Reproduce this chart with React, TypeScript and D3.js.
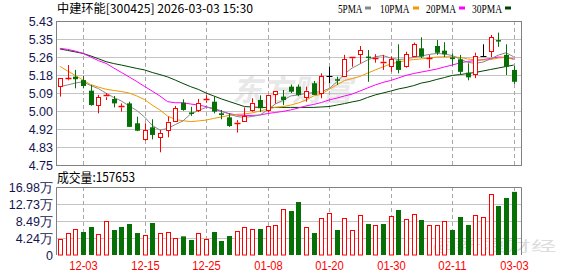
import React from 'react';
import * as d3 from 'd3';

const dates = [
  '11-28','12-01','12-02','12-03','12-04','12-05','12-08','12-09','12-10','12-11','12-12',
  '12-15','12-16','12-17','12-18','12-19','12-22','12-23','12-24','12-25','12-26','12-29','12-30','12-31',
  '01-05','01-06','01-07','01-08','01-09','01-12','01-13','01-14','01-15','01-16','01-19','01-20',
  '01-21','01-22','01-23','01-26','01-27','01-28','01-29','01-30','02-02','02-03','02-04','02-05','02-06',
  '02-09','02-10','02-11','02-12','02-13','02-24','02-25','02-26','02-27','03-02','03-03'
];

const opens = [
  5.12,5.155,5.167,5.151,5.101,5.033,5.07,5.062,5.022,5.041,
  4.947,4.871,4.928,4.881,4.918,4.955,5.044,4.998,5.01,5.053,
  5.049,4.994,4.975,4.945,4.959,5.01,5.057,5.01,5.085,5.073,
  5.12,5.12,5.073,5.136,5.091,5.17,5.155,5.167,5.254,5.273,
  5.262,5.252,5.23,5.214,5.243,5.217,5.262,5.301,5.25,5.312,
  5.29,5.258,5.249,5.186,5.183,5.266,5.285,5.34,5.27,5.199
];
const closes = [
  5.16,5.16,5.155,5.123,5.033,5.07,5.08,5.041,5.028,4.93,
  4.912,4.915,4.892,4.9,4.955,5.018,5.01,4.994,5.044,5.062,
  5.002,4.986,4.934,4.95,4.981,5.044,5.018,5.081,5.099,5.057,
  5.096,5.081,5.101,5.081,5.17,5.17,5.148,5.249,5.258,5.293,
  5.258,5.257,5.238,5.249,5.199,5.274,5.32,5.262,5.254,5.28,
  5.273,5.25,5.19,5.164,5.266,5.266,5.353,5.336,5.214,5.143
];
const highs = [
  5.16,5.222,5.199,5.17,5.128,5.081,5.09,5.076,5.041,5.049,
  4.978,4.947,4.966,4.915,4.978,5.029,5.06,5.025,5.062,5.08,
  5.072,5.01,4.994,4.962,5.022,5.065,5.079,5.081,5.099,5.104,
  5.13,5.13,5.12,5.147,5.183,5.214,5.167,5.27,5.258,5.312,
  5.293,5.273,5.27,5.262,5.32,5.285,5.328,5.353,5.27,5.34,
  5.33,5.277,5.27,5.23,5.28,5.32,5.364,5.375,5.32,5.218
];
const lows = [
  5.073,5.15,5.112,5.112,5.03,4.994,5.057,5.022,5.002,4.93,
  4.91,4.865,4.871,4.81,4.881,4.955,5.006,4.982,5.0,5.044,
  4.994,4.966,4.93,4.903,4.955,5.002,5.0,5.0,5.04,5.033,
  5.09,5.075,5.049,5.081,5.065,5.136,5.128,5.167,5.214,5.23,
  5.143,5.233,5.199,5.19,5.183,5.21,5.26,5.255,5.207,5.27,
  5.26,5.22,5.175,5.15,5.16,5.26,5.26,5.308,5.175,5.133
];
const volumes = [
  39950,54900,64200,57400,69900,52400,84900,62400,70000,77400,
  54900,49100,79900,54900,57400,41600,46600,37500,54900,40000,
  57400,35000,47400,59900,69200,64900,64900,72400,74900,114100,
  109900,132300,69900,54900,91600,104900,62400,91600,62400,99900,
  77400,74900,77400,97400,112400,89900,102400,87400,74900,74900,
  84900,62400,94900,74900,99900,94900,152300,122400,142300,157653
];
// 1 = up (red hollow), 0 = down (green filled), as drawn in the volume panel
const volUp = [
  1,1,1,0,0,1,1,0,0,0,
  0,1,0,1,1,1,0,0,1,1,
  0,0,0,1,1,1,0,1,1,1,
  0,0,1,0,1,1,0,1,1,1,
  0,1,0,1,0,1,1,0,1,1,
  1,0,0,0,1,1,1,0,0,0
];
const ma5 = [
  5.12,5.128,5.137,5.143,5.125,5.111,5.089,5.069,5.052,5.029,
  5.007,4.977,4.937,4.915,4.922,4.941,4.958,4.991,5.007,5.022,
  5.019,5.005,4.991,4.979,4.975,4.979,4.986,5.01,5.038,5.055,
  5.076,5.081,5.088,5.092,5.097,5.111,5.142,5.18,5.208,5.227,
  5.246,5.261,5.267,5.255,5.248,5.251,5.258,5.265,5.272,5.277,
  5.274,5.267,5.251,5.235,5.23,5.236,5.251,5.269,5.28,5.261
];
const ma10 = [
  5.216,5.194,5.173,5.151,5.13,5.118,5.108,5.102,5.097,5.09,
  5.076,5.059,5.033,5.01,4.981,4.965,4.959,4.955,4.958,4.962,
  4.97,4.977,4.984,4.989,4.991,4.996,5.005,5.014,5.022,5.026,
  5.033,5.043,5.057,5.076,5.085,5.107,5.128,5.149,5.158,5.168,
  5.184,5.199,5.213,5.227,5.236,5.243,5.248,5.251,5.255,5.26,
  5.261,5.261,5.258,5.251,5.246,5.246,5.248,5.255,5.258,5.248
];
const ma20 = [
  5.301,5.296,5.288,5.277,5.26,5.243,5.23,5.208,5.187,5.166,
  5.144,5.121,5.099,5.076,5.049,5.044,5.044,5.038,5.033,5.026,
  5.014,5.003,4.993,4.986,4.984,4.984,4.986,4.993,4.998,5.003,
  5.01,5.019,5.029,5.036,5.045,5.057,5.066,5.076,5.085,5.099,
  5.114,5.128,5.14,5.149,5.161,5.173,5.182,5.189,5.196,5.203,
  5.213,5.222,5.232,5.239,5.243,5.248,5.253,5.26,5.258,5.251
];
const ma30 = [
  5.298,5.291,5.284,5.277,5.265,5.252,5.238,5.229,5.222,5.214,
  5.206,5.199,5.187,5.177,5.166,5.151,5.135,5.12,5.107,5.09,
  5.076,5.062,5.05,5.038,5.026,5.024,5.022,5.022,5.022,5.022,
  5.022,5.022,5.022,5.022,5.024,5.026,5.033,5.04,5.048,5.055,
  5.069,5.081,5.09,5.099,5.109,5.116,5.125,5.137,5.144,5.154,
  5.163,5.173,5.177,5.182,5.187,5.194,5.201,5.208,5.215,5.222
];

const yTickLabels = ['4.75','4.83','4.92','5.00','5.09','5.18','5.26','5.35','5.43'];
const volTickLabels = ['0','4.24万','8.49万','12.73万','16.98万'];
const xTickLabels = ['12-03','12-15','12-25','01-08','01-20','01-30','02-11','03-03'];
const legendNames = ['5PMA','10PMA','20PMA','30PMA'];
const title = '中建环能[300425] 2026-03-03 15:30';
const volTitle = '成交量:157653';
const watermarkMain = '东方财富';
const watermarkCorner = '@新浪财经';

const UP = '#ff0000';
const DOWN = '#067006';
const maColors = ['#888888', '#f39800', '#ff00ff', '#004400'];

export default function App() {
  const W = 578, H = 276;
  const L = 56, R = 522;
  const mT = 21, mB = 165;
  const vT = 187, vB = 255;
  const yMin = 4.75, yMax = 5.43;
  const vMax = 169800;

  const x = d3.scalePoint<string>().domain(dates).range([59.9, 513.7]);
  const y = d3.scaleLinear().domain([yMin, yMax]).range([mB, mT]);
  const yv = d3.scaleLinear().domain([0, vMax]).range([vB, vT]);

  const px = (i: number) => Math.round(x(dates[i]) as number);
  const line = d3.line<number>()
    .x((_, i) => x(dates[i]) as number)
    .y(d => y(d));

  const yTicks = yTickLabels.map((t, k) => ({ t, v: yMin + (k * (yMax - yMin)) / (yTickLabels.length - 1) }));
  const vTicks = volTickLabels.map((t, k) => ({ t, v: (k * vMax) / (volTickLabels.length - 1) }));

  const font = "'Liberation Sans', Arial, sans-serif";
  const cjk = "'Noto Sans CJK SC', sans-serif";

  return (
    <svg width={W} height={H} style={{ position: 'absolute', left: 0, top: 0, background: '#fff' }}>
      <rect x={0} y={0} width={W} height={H} fill="#fff" />
      {/* watermarks */}
      <text x={232} y={101} fontFamily={cjk} fontSize={30} fontWeight={700} fontStyle="italic" fill="#e8e8e8" textLength={120} lengthAdjust="spacingAndGlyphs">{watermarkMain}</text>
      <text x={432} y={251} fontFamily={cjk} fontSize={14} fill="#dcdcdc" textLength={124} lengthAdjust="spacingAndGlyphs">{watermarkCorner}</text>

      {/* title */}
      <text x={57} y={13} fontFamily={cjk} fontSize={12} fill="#000" textLength={196} lengthAdjust="spacingAndGlyphs">{title}</text>
      {/* legend */}
      {legendNames.map((n, k) => {
        const xs = [338, 380, 426, 472][k];
        const sq = [365, 413, 459, 505][k];
        return (
          <g key={n}>
            <text x={xs} y={12.5} fontFamily="'Liberation Serif', serif" fontSize={11.5} fill="#000" textLength={[24.5, 29.5, 30, 30][k]} lengthAdjust="spacingAndGlyphs">{n}</text>
            <rect x={sq} y={6.5} width={6} height={3} fill={maColors[k]} />
          </g>
        );
      })}

      {/* main grid */}
      {yTicks.map(({ t, v }, k) => (
        <g key={'yt' + k}>
          {k > 0 && k < yTicks.length - 1 && (
            <line x1={L} x2={R} y1={Math.round(y(v)) + 0.5} y2={Math.round(y(v)) + 0.5} stroke="#c4c4c4" />
          )}
          <text x={53} y={y(v) + 4.5} textAnchor="end" fontFamily={font} fontSize={12.5} fill="#141450">{t}</text>
        </g>
      ))}
      {/* volume grid */}
      {vTicks.map(({ t, v }, k) => (
        <g key={'vt' + k}>
          {k > 0 && k < vTicks.length - 1 && (
            <line x1={L} x2={R} y1={Math.round(yv(v)) + 0.5} y2={Math.round(yv(v)) + 0.5} stroke="#c4c4c4" />
          )}
          <text x={53} y={yv(v) + 4.5} textAnchor="end" fontFamily={font} fontSize={12.5} fill="#141450">{t}</text>
        </g>
      ))}
      {/* vertical dashed lines + x labels */}
      {xTickLabels.map(d => {
        const xi = Math.round(x(d) as number) + 0.5;
        return (
          <g key={'xt' + d}>
            <line x1={xi} x2={xi} y1={mT} y2={mB} stroke="#a8a8a8" strokeDasharray="4,3" />
            <line x1={xi} x2={xi} y1={vT} y2={vB} stroke="#a8a8a8" strokeDasharray="4,3" />
            <text x={xi} y={270} textAnchor="middle" fontFamily={font} fontSize={12} fill="#ff0000" textLength={28.5} lengthAdjust="spacingAndGlyphs">{d}</text>
          </g>
        );
      })}

      {/* MA lines */}
      {[ma30, ma20, ma10, ma5].map((s, k) => (
        <path key={'ma' + k} d={line(s) || ''} fill="none" stroke={maColors[3 - k]} strokeWidth={1} />
      ))}

      {/* candles */}
      {dates.map((d, i) => {
        const c = px(i) + 0.5;
        const o = opens[i], cl = closes[i], h = highs[i], l = lows[i];
        const top = y(Math.max(o, cl)), bot = y(Math.min(o, cl));
        if (cl === o) {
          return (
            <g key={'c' + i}>
              <line x1={c} x2={c} y1={y(h)} y2={y(l)} stroke="#000" />
              <line x1={c - 3} x2={c + 3} y1={Math.round(top) + 0.5} y2={Math.round(top) + 0.5} stroke="#000" />
            </g>
          );
        }
        if (cl > o) {
          const bh = Math.max(1, bot - top);
          return (
            <g key={'c' + i}>
              <line x1={c} x2={c} y1={y(h)} y2={top} stroke={UP} />
              <line x1={c} x2={c} y1={bot} y2={y(l)} stroke={UP} />
              {bh < 2.5 ? (
                <line x1={c - 3} x2={c + 3} y1={Math.round(top) + 0.5} y2={Math.round(top) + 0.5} stroke={UP} strokeWidth={1.5} />
              ) : (
                <rect x={c - 2} y={Math.round(top) + 0.5} width={4} height={Math.round(bh)} fill="#fff" stroke={UP} />
              )}
            </g>
          );
        }
        const bh = Math.max(1.5, bot - top);
        return (
          <g key={'c' + i}>
            <line x1={c} x2={c} y1={y(h)} y2={y(l)} stroke={DOWN} />
            <rect x={c - 2.5} y={top} width={5} height={bh} fill={DOWN} />
          </g>
        );
      })}

      {/* volume bars */}
      {volumes.map((v, i) => {
        const c = px(i) + 0.5;
        const t = yv(v);
        return volUp[i] ? (
          <rect key={'v' + i} x={c - 2} y={Math.round(t) + 0.5} width={4} height={vB - Math.round(t) - 0.5} fill="#fff" stroke={UP} />
        ) : (
          <rect key={'v' + i} x={c - 2.5} y={t} width={5} height={vB - t} fill={DOWN} />
        );
      })}

      {/* frames */}
      <rect x={L + 0.5} y={mT + 0.5} width={R - L - 1} height={mB - mT} fill="none" stroke="#808080" />
      <path d={`M${L + 0.5},${vB}V${vT + 0.5}H${R - 0.5}V${vB}`} fill="none" stroke="#808080" />

      <text x={57} y={182} fontFamily={cjk} fontSize={13} fill="#000" textLength={78} lengthAdjust="spacingAndGlyphs">{volTitle}</text>
    </svg>
  );
}
